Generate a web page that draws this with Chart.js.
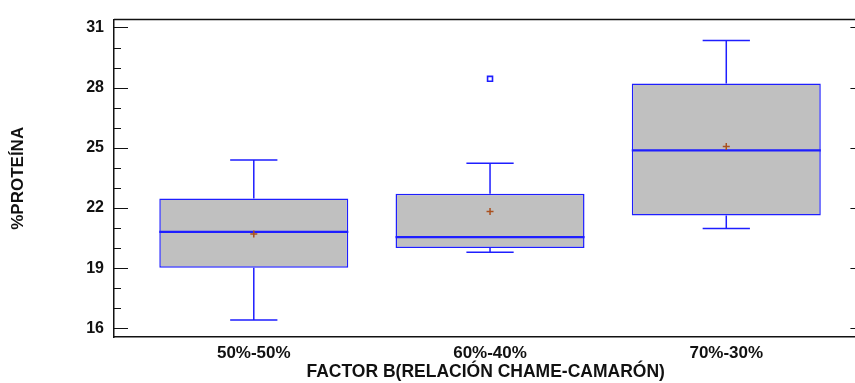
<!DOCTYPE html>
<html>
<head>
<meta charset="utf-8">
<script src="https://cdn.jsdelivr.net/npm/chart.js@4"></script>
<style>
  html, body { margin: 0; padding: 0; overflow: hidden; background: #fff; }
  canvas { display: block; }
</style>
</head>
<body>
<canvas id="c" width="863" height="383"></canvas>
<script>
// Protein content by chame/shrimp ratio (box-and-whisker summary)
const categories  = ['50%-50%', '60%-40%', '70%-30%'];
const whiskerLow  = [16.42, 19.80, 20.98];
const quartile1   = [19.03, 20.01, 21.63];
const medians     = [20.81, 20.55, 24.87];
const quartile3   = [22.48, 22.71, 28.21];
const whiskerHigh = [24.40, 24.23, 30.35];
const means       = [20.70, 21.83, 25.07];
const outliers    = [[], [28.44], []];
const yTicks      = [16, 19, 22, 25, 28, 31];
const yMinorStep  = 1;

const BLUE = 'rgb(30,30,255)';
const INK = '#111';
const FONT = "'Liberation Sans', Arial, Helvetica, sans-serif";

const xs = categories.map((c, i) => i + 1);

// whiskers, caps and median lines on top of the boxes
const boxPlugin = {
  id: 'boxWhiskers',
  afterDatasetDraw(chart, args) {
    if (args.index !== 0) return;
    const { ctx, scales: { x, y } } = chart;
    ctx.save();
    ctx.strokeStyle = BLUE;
    ctx.lineCap = 'butt';
    xs.forEach((xv, i) => {
      const cx = x.getPixelForValue(xv);
      const capL = x.getPixelForValue(xv - 0.1);
      const capR = x.getPixelForValue(xv + 0.1);
      const boxL = x.getPixelForValue(xv - 0.4);
      const boxR = x.getPixelForValue(xv + 0.4);
      ctx.lineWidth = 1.5;
      ctx.beginPath();
      ctx.moveTo(cx, y.getPixelForValue(quartile3[i]));
      ctx.lineTo(cx, y.getPixelForValue(whiskerHigh[i]));
      ctx.moveTo(capL, y.getPixelForValue(whiskerHigh[i]));
      ctx.lineTo(capR, y.getPixelForValue(whiskerHigh[i]));
      ctx.moveTo(cx, y.getPixelForValue(quartile1[i]));
      ctx.lineTo(cx, y.getPixelForValue(whiskerLow[i]));
      ctx.moveTo(capL, y.getPixelForValue(whiskerLow[i]));
      ctx.lineTo(capR, y.getPixelForValue(whiskerLow[i]));
      ctx.stroke();
      ctx.lineWidth = 2.2;
      ctx.beginPath();
      ctx.moveTo(boxL, y.getPixelForValue(medians[i]));
      ctx.lineTo(boxR, y.getPixelForValue(medians[i]));
      ctx.stroke();
    });
    ctx.restore();
  }
};

// frame: top edge, inward tick marks on both sides
const framePlugin = {
  id: 'frame',
  afterDraw(chart) {
    const { ctx, chartArea: a, scales: { y } } = chart;
    ctx.save();
    ctx.strokeStyle = INK;
    ctx.lineWidth = 1.5;
    ctx.beginPath();
    ctx.moveTo(a.left, a.top);
    ctx.lineTo(a.right, a.top);
    ctx.stroke();
    ctx.lineWidth = 1.2;
    ctx.beginPath();
    for (let v = Math.ceil(y.min); v <= y.max; v += yMinorStep) {
      const py = Math.round(y.getPixelForValue(v)) + 0.5;
      const major = yTicks.includes(v);
      ctx.moveTo(a.left, py);
      ctx.lineTo(a.left + (major ? 14 : 7), py);
      if (major) {
        ctx.moveTo(a.right - 7, py);
        ctx.lineTo(a.right, py);
      }
    }
    ctx.stroke();
    ctx.restore();
  }
};

new Chart(document.getElementById('c'), {
  type: 'bar',
  data: {
    datasets: [
      {
        type: 'bar',
        data: xs.map((xv, i) => ({ x: xv, y: [quartile1[i], quartile3[i]] })),
        backgroundColor: '#C0C0C0',
        borderColor: BLUE,
        borderWidth: 1.5,
        borderSkipped: false,
        categoryPercentage: 0.8,
        barPercentage: 1,
        grouped: false,
        order: 3
      },
      {
        type: 'scatter',
        data: xs.map((xv, i) => ({ x: xv, y: means[i] })),
        pointStyle: 'cross',
        radius: 3.5,
        borderColor: 'rgb(170,80,30)',
        borderWidth: 1.5,
        order: 2
      },
      {
        type: 'scatter',
        data: outliers.flatMap((list, i) => list.map(v => ({ x: xs[i], y: v }))),
        pointStyle: 'rect',
        radius: 3.5,
        backgroundColor: '#fff',
        borderColor: BLUE,
        borderWidth: 1.6,
        order: 1
      }
    ]
  },
  options: {
    responsive: false,
    animation: false,
    events: [],
    layout: { padding: { top: 15, right: 1, bottom: 0, left: 0 } },
    plugins: { legend: { display: false }, tooltip: { enabled: false } },
    scales: {
      x: {
        type: 'linear',
        offset: false,
        min: 0.4083,
        max: 3.555,
        afterBuildTicks: s => { s.ticks = xs.map(v => ({ value: v })); },
        afterFit: s => { s.height = 46; },
        grid: { display: true, drawOnChartArea: false, drawTicks: false, offset: false },
        border: { display: true, color: INK, width: 1.5 },
        ticks: {
          padding: 6,
          autoSkip: false,
          maxRotation: 0,
          color: INK,
          font: { family: FONT, size: 17, weight: 'bold' },
          callback: v => categories[Math.round(v) - 1]
        },
        title: {
          display: true,
          text: 'FACTOR B(RELACIÓN CHAME-CAMARÓN)',
          color: INK,
          padding: 0,
          font: { family: FONT, size: 17.5, weight: 'bold' }
        }
      },
      y: {
        min: 15.572,
        max: 31.393,
        afterBuildTicks: s => { s.ticks = yTicks.map(v => ({ value: v })); },
        afterFit: s => { s.width = 114; },
        grid: { display: true, drawOnChartArea: false, drawTicks: false },
        border: { display: true, color: INK, width: 1.5 },
        ticks: {
          padding: 10,
          color: INK,
          font: { family: FONT, size: 16, weight: 'bold' }
        },
        title: {
          display: true,
          text: '%PROTEÍNA',
          color: INK,
          padding: { top: 8, bottom: 0 },
          font: { family: FONT, size: 17, weight: 'bold' }
        }
      }
    }
  },
  plugins: [boxPlugin, framePlugin]
});
</script>
</body>
</html>
